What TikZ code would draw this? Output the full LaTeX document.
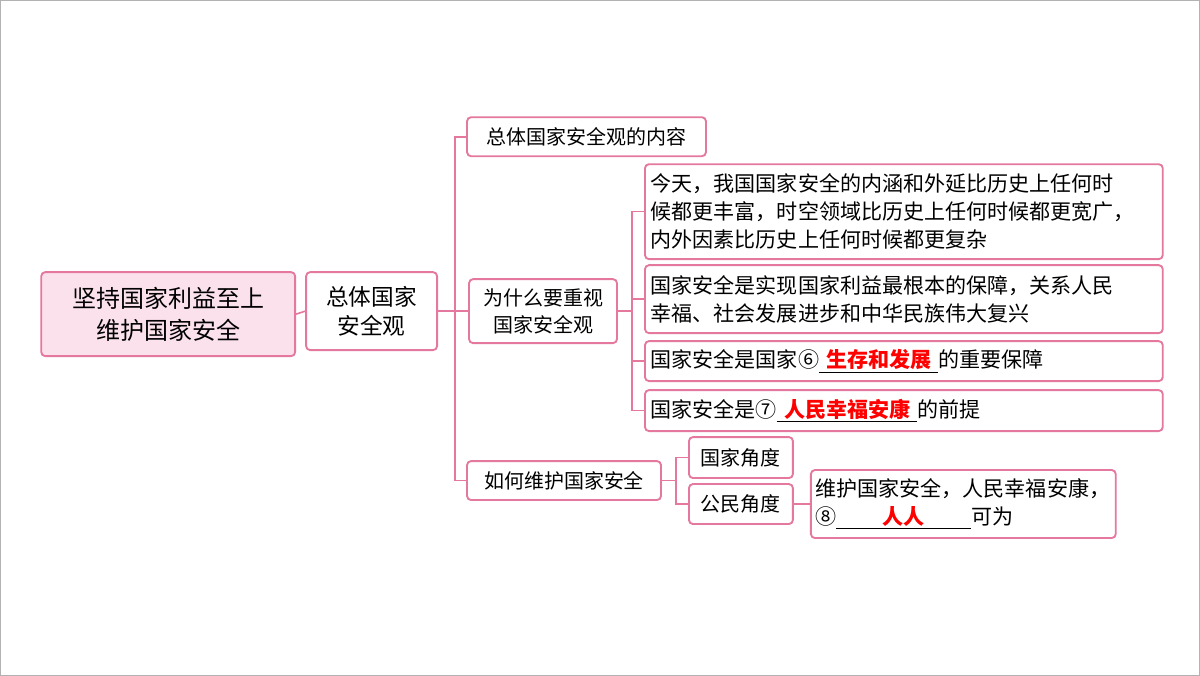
\documentclass[tikz,border=0pt]{standalone}
\usepackage{fontspec}
\setmainfont{Noto Sans CJK SC}
\begin{document}
\begin{tikzpicture}[x=0.75pt,y=-0.75pt,
  box/.style={draw=pk,line width=1.4pt,rounded corners=3pt,fill=white,inner sep=0pt,font=\fontsize{15}{20}\selectfont},
  lbox/.style={box,align=left,font=\fontsize{15.8}{21}\selectfont},
  ln/.style={draw=pk,line width=1.2pt}]
\definecolor{pk}{HTML}{E4789F}
\definecolor{pkf}{HTML}{FBE1EC}
\newcommand{\ans}[1]{\underline{\ \textcolor{red}{\bfseries #1}\ }}
\draw[gray!60,fill=white] (0,0) rectangle (1200,675);
\node[box,fill=pkf,minimum width=190.5pt,minimum height=63pt,align=center,font=\fontsize{18}{24}\selectfont] (root) at (168,314) {坚持国家利益至上\\维护国家安全};
\node[box,minimum width=98.25pt,minimum height=58.5pt,align=center,font=\fontsize{17}{22}\selectfont] (zt) at (371.5,311) {总体国家\\安全观};
\node[box,minimum width=179.25pt,minimum height=29.25pt] (nr) at (586.5,136.5) {总体国家安全观的内容};
\node[box,minimum width=111pt,minimum height=48pt,align=center] (ws) at (543,311) {为什么要重视\\国家安全观};
\node[box,minimum width=145.5pt,minimum height=29.25pt] (rh) at (564,480.5) {如何维护国家安全};
\node[lbox,minimum width=388.5pt,minimum height=71.25pt,text width=380pt] (t1) at (904,211.5) {今天，我国国家安全的内涵和外延比历史上任何时\\候都更丰富，时空领域比历史上任何时候都更宽广，\\内外因素比历史上任何时候都更复杂};
\node[lbox,minimum width=388.5pt,minimum height=51pt,text width=380pt] (t2) at (904,299) {国家安全是实现国家利益最根本的保障，关系人民\\幸福、社会发展进步和中华民族伟大复兴};
\node[lbox,minimum width=388.5pt,minimum height=30pt,text width=380pt] (t3) at (904,361) {国家安全是国家⑥\ans{生存和发展}的重要保障};
\node[lbox,minimum width=388.5pt,minimum height=30.75pt,text width=380pt] (t4) at (904,410.5) {国家安全是⑦\ans{人民幸福安康}的前提};
\node[box,minimum width=78pt,minimum height=30.75pt] (gj) at (741,457.5) {国家角度};
\node[box,minimum width=78pt,minimum height=30pt] (gm) at (741,504) {公民角度};
\node[lbox,minimum width=228.75pt,minimum height=51pt,text width=222pt] (last) at (963.5,504) {维护国家安全，人民幸福安康，\\⑧\underline{\hspace{2.2em}\textcolor{red}{\bfseries 人人}\hspace{2.2em}}可为};
\draw[ln] (root.east) -- (zt.west);
\draw[ln] (zt.east) -- (455,311);
\draw[ln] (nr.west) -| (455,311) |- (rh.west);
\draw[ln] (455,311) -- (ws.west);
\draw[ln] (ws.east) -- (632,311);
\draw[ln] (t1.west) -| (632,311) |- (t4.west);
\draw[ln] (632,299) -- (t2.west);
\draw[ln] (632,361) -- (t3.west);
\draw[ln] (rh.east) -- (676,480.5);
\draw[ln] (gj.west) -| (676,480.5) |- (gm.west);
\draw[ln] (gm.east) -- (last.west);
\end{tikzpicture}
\end{document}
